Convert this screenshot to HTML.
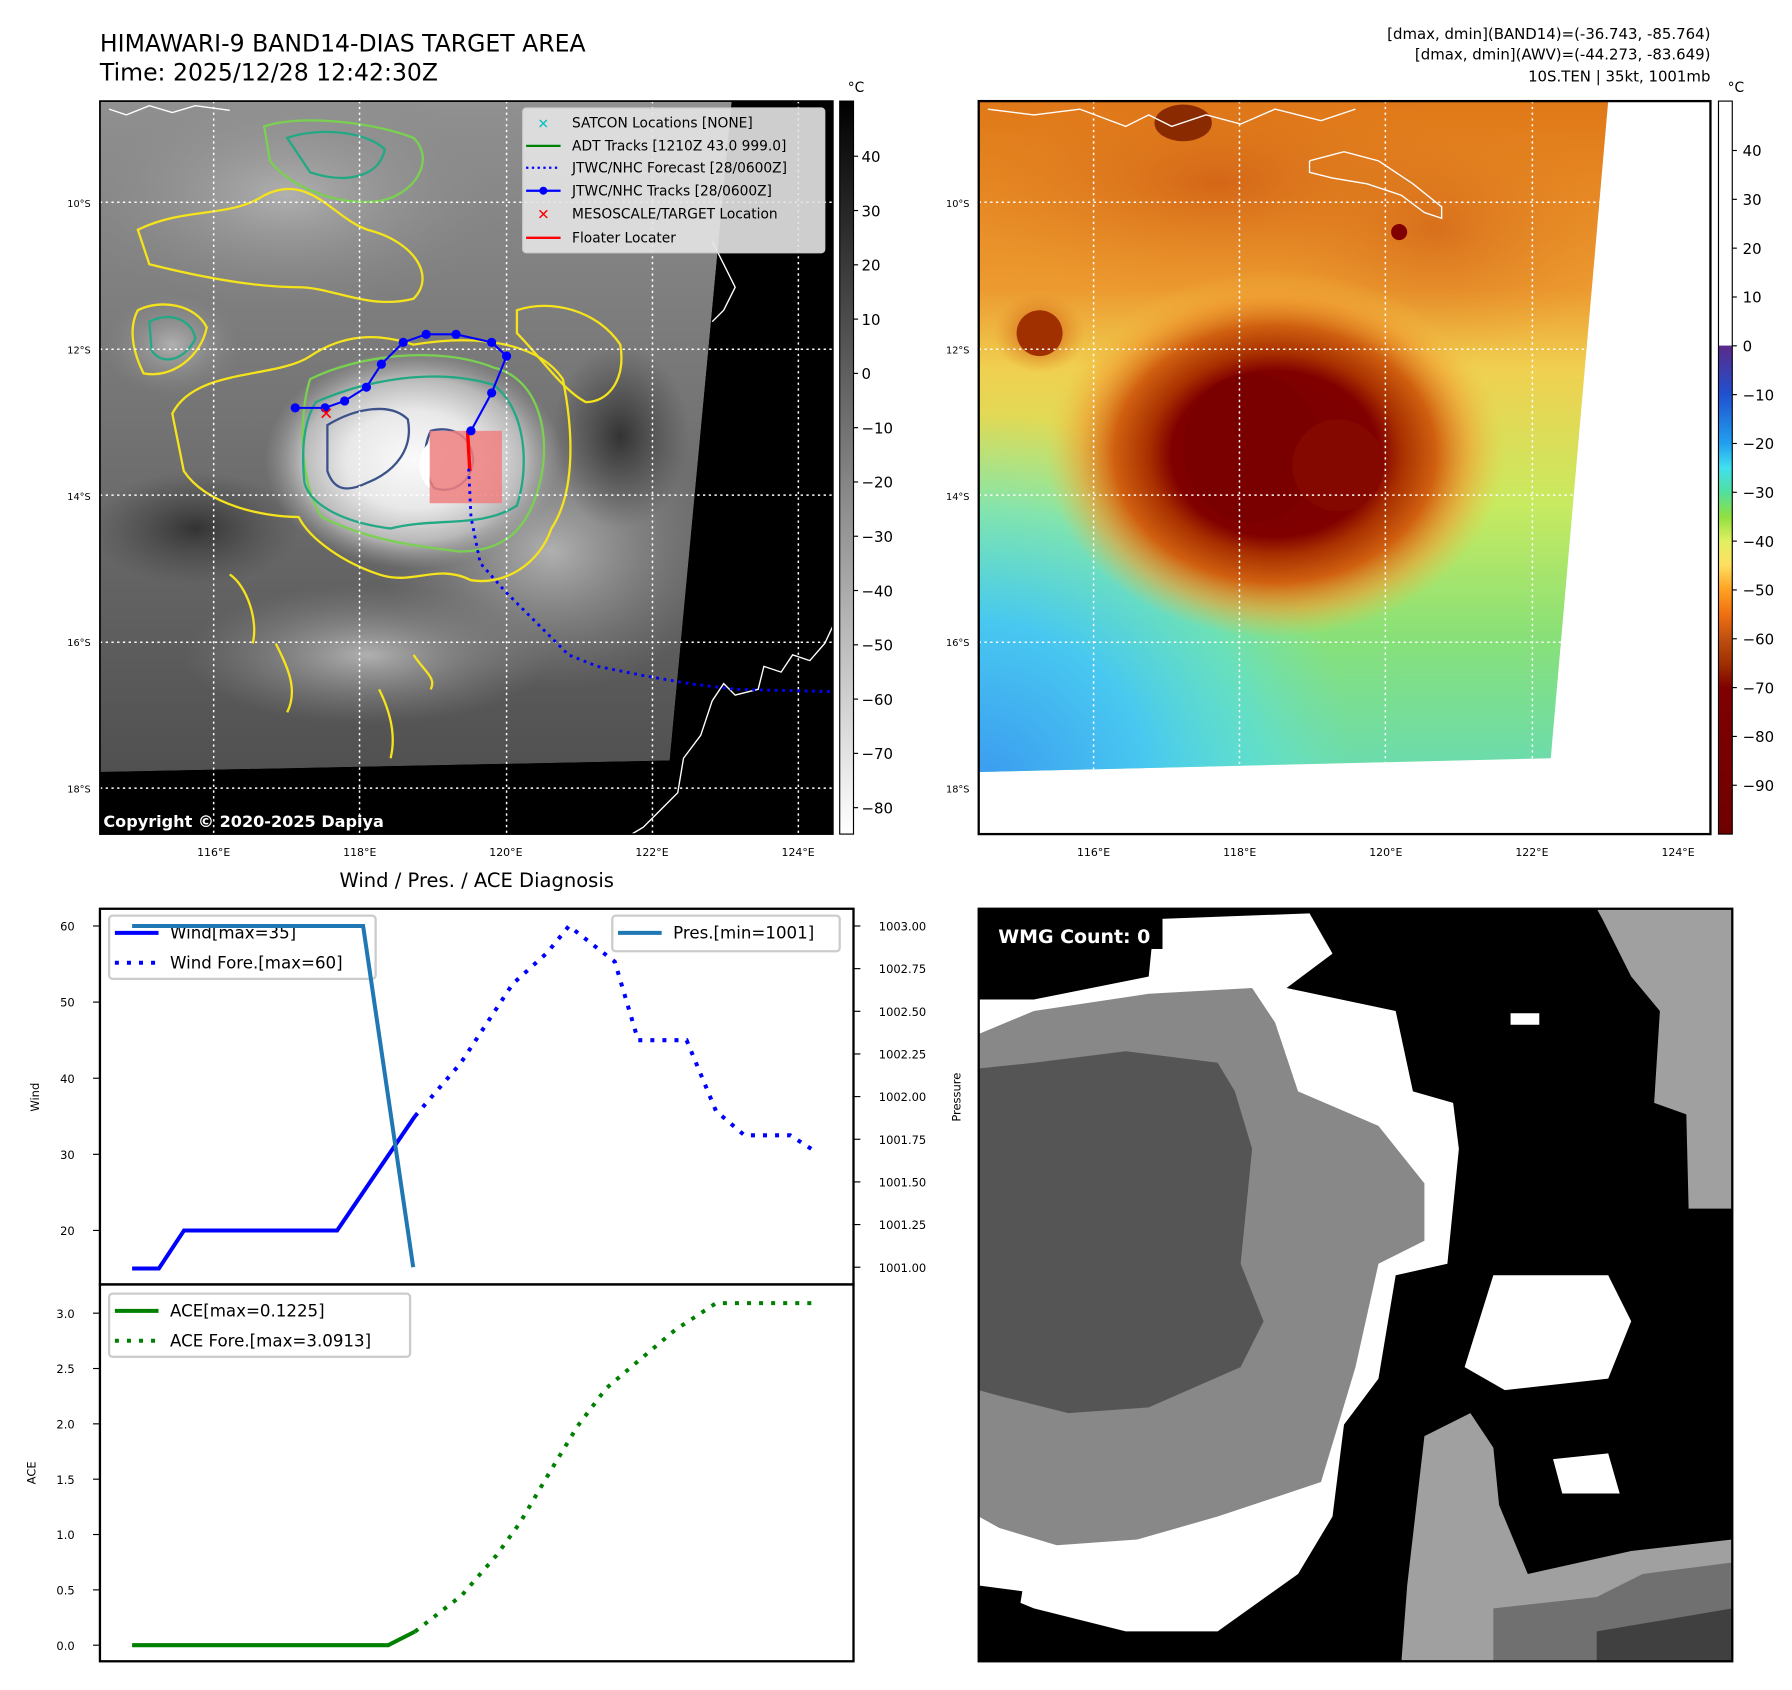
<!DOCTYPE html>
<html><head><meta charset="utf-8"><style>
html,body{margin:0;padding:0;background:#fff;}
svg{display:block;font-family:"DejaVu Sans","Liberation Sans",sans-serif;}
</style></head><body>
<svg id="fig" width="1792" height="1690" viewBox="0 0 1560 1471" preserveAspectRatio="none" xmlns="http://www.w3.org/2000/svg">
<defs>
  <linearGradient id="grayBar" x1="0" y1="0" x2="0" y2="1"><stop offset="0" stop-color="#000"/><stop offset="1" stop-color="#fff"/></linearGradient>
  <linearGradient id="colBar" x1="0" y1="0" x2="0" y2="1">
    <stop offset="0" stop-color="#fff"/><stop offset="0.333" stop-color="#fff"/>
    <stop offset="0.334" stop-color="#5a2a8a"/><stop offset="0.40" stop-color="#2050d0"/>
    <stop offset="0.467" stop-color="#20a0f0"/><stop offset="0.50" stop-color="#40e0f0"/>
    <stop offset="0.533" stop-color="#50e0a0"/><stop offset="0.567" stop-color="#90e040"/>
    <stop offset="0.60" stop-color="#e0f060"/><stop offset="0.633" stop-color="#ffe060"/>
    <stop offset="0.667" stop-color="#ffa020"/><stop offset="0.70" stop-color="#f07010"/>
    <stop offset="0.733" stop-color="#c05010"/><stop offset="0.767" stop-color="#a03000"/>
    <stop offset="0.80" stop-color="#800000"/><stop offset="1" stop-color="#700000"/>
  </linearGradient>
  <radialGradient id="stormGray" cx="0.5" cy="0.5" r="0.5">
    <stop offset="0" stop-color="#fafafa"/><stop offset="0.45" stop-color="#e8e8e8"/><stop offset="0.75" stop-color="#b8b8b8"/><stop offset="1" stop-color="#999" stop-opacity="0"/>
  </radialGradient>
  <radialGradient id="cloudGray" cx="0.5" cy="0.5" r="0.5">
    <stop offset="0" stop-color="#b0b0b0"/><stop offset="1" stop-color="#888" stop-opacity="0"/>
  </radialGradient>
  <radialGradient id="darkGray" cx="0.5" cy="0.5" r="0.5">
    <stop offset="0" stop-color="#333"/><stop offset="1" stop-color="#444" stop-opacity="0"/>
  </radialGradient>
  <linearGradient id="baseGray" x1="0" y1="0" x2="0" y2="1">
    <stop offset="0" stop-color="#909090"/><stop offset="0.5" stop-color="#727272"/><stop offset="1" stop-color="#505050"/>
  </linearGradient>
  <linearGradient id="baseCol" gradientUnits="userSpaceOnUse" x1="0" y1="88" x2="0" y2="672">
    <stop offset="0" stop-color="#e07818"/><stop offset="0.28" stop-color="#ec9a30"/>
    <stop offset="0.4" stop-color="#f0d050"/><stop offset="0.6" stop-color="#c8ea60"/>
    <stop offset="0.8" stop-color="#88e078"/><stop offset="1" stop-color="#6adcb0"/>
  </linearGradient>
  <radialGradient id="blueCorner" gradientUnits="userSpaceOnUse" cx="852" cy="690" r="330">
    <stop offset="0" stop-color="#3a98f0"/><stop offset="0.45" stop-color="#48c8f0"/><stop offset="0.75" stop-color="#58e0e0" stop-opacity="0.6"/><stop offset="1" stop-color="#70e0c0" stop-opacity="0"/>
  </radialGradient>
  <radialGradient id="stormCol" cx="0.5" cy="0.5" r="0.5">
    <stop offset="0" stop-color="#7a0000"/><stop offset="0.45" stop-color="#800000"/><stop offset="0.55" stop-color="#a83000"/><stop offset="0.7" stop-color="#d06010"/><stop offset="0.85" stop-color="#f09a30" stop-opacity="0.6"/><stop offset="1" stop-color="#f0c040" stop-opacity="0"/>
  </radialGradient>
  <radialGradient id="orangeBlob" cx="0.5" cy="0.5" r="0.5">
    <stop offset="0" stop-color="#c85010"/><stop offset="1" stop-color="#e08020" stop-opacity="0"/>
  </radialGradient>
  <clipPath id="clipL"><rect x="87" y="88" width="638" height="638"/></clipPath>
  <clipPath id="clipR"><rect x="852" y="88" width="637" height="638"/></clipPath>
  <clipPath id="clipRdata"><polygon points="852,88 1400,88 1350,660 852,672"/></clipPath>
  <clipPath id="clipW"><rect x="852" y="791" width="656" height="655"/></clipPath>
</defs>

<text x="87" y="45" font-size="20.5">HIMAWARI-9 BAND14-DIAS TARGET AREA</text>
<text x="87" y="70" font-size="20.5">Time: 2025/12/28 12:42:30Z</text>
<g font-size="13" text-anchor="end">
  <text x="1489" y="34">[dmax, dmin](BAND14)=(-36.743, -85.764)</text>
  <text x="1489" y="52">[dmax, dmin](AWV)=(-44.273, -83.649)</text>
  <text x="1489" y="71">10S.TEN | 35kt, 1001mb</text>
</g>

<!-- LEFT MAP -->
<g clip-path="url(#clipL)">
  <rect x="87" y="88" width="638" height="638" fill="#000"/>
  <polygon points="87,88 637,88 583,662 87,672" fill="url(#baseGray)"/>
  <ellipse cx="250" cy="170" rx="190" ry="100" fill="url(#cloudGray)"/>
  <ellipse cx="480" cy="480" rx="150" ry="120" fill="url(#cloudGray)"/>
  <ellipse cx="320" cy="570" rx="160" ry="60" fill="url(#cloudGray)"/>
  <ellipse cx="150" cy="300" rx="60" ry="45" fill="url(#cloudGray)"/>
  <ellipse cx="170" cy="460" rx="90" ry="50" fill="url(#darkGray)"/>
  <ellipse cx="540" cy="380" rx="60" ry="80" fill="url(#darkGray)"/>
  <ellipse cx="360" cy="400" rx="130" ry="95" fill="url(#stormGray)"/>
  <polygon points="637,88 725,88 725,726 87,726 87,672 583,662" fill="#000"/>
  <g fill="none" stroke-width="2">
    <path d="M150,360 C170,320 240,330 270,310 C300,290 330,290 360,300 C420,290 470,300 490,330 C500,380 500,430 480,460 C470,490 440,510 410,505 C380,490 360,510 330,500 C300,490 270,470 260,450 C230,450 180,440 160,410 Z" stroke="#f5e31c"/>
    <path d="M270,330 C310,310 380,300 430,320 C470,330 480,380 470,420 C460,460 440,480 400,480 C360,475 320,470 280,450 C260,420 260,360 270,330 Z" stroke="#7ad151"/>
    <path d="M275,350 C320,330 380,320 430,335 C460,360 460,410 450,440 C420,460 380,450 340,460 C300,455 270,440 265,420 C262,390 265,365 275,350 Z" stroke="#22a884"/>
    <path d="M285,370 C310,355 340,350 355,365 C360,390 345,410 320,420 C300,430 290,425 285,410 Z" stroke="#3b528b"/>
    <path d="M375,375 C395,370 410,380 412,400 C410,420 395,430 378,425 C368,410 368,390 375,375 Z" stroke="#3b528b"/>
    <path d="M120,270 C140,260 170,265 180,285 C175,310 150,330 125,325 C115,305 112,285 120,270 Z" stroke="#f5e31c"/>
    <path d="M130,280 C150,270 168,280 170,295 C160,315 140,318 132,305 Z" stroke="#22a884"/>
    <path d="M120,200 C160,180 200,190 230,170 C270,150 290,190 320,200 C360,210 380,240 360,260 C320,270 290,250 260,250 C220,250 170,240 130,230 Z" stroke="#f5e31c"/>
    <path d="M230,110 C260,100 320,105 360,120 C380,140 360,170 330,175 C290,180 250,160 235,140 Z" stroke="#7ad151"/>
    <path d="M250,120 C280,110 320,115 335,130 C330,155 300,160 270,150 Z" stroke="#22a884"/>
    <path d="M450,270 C480,260 520,270 540,300 C545,330 530,350 510,350 C490,340 470,310 450,290 Z" stroke="#f5e31c"/>
    <path d="M200,500 C215,510 225,540 220,560 M240,560 C250,580 260,600 250,620 M330,600 C340,620 345,640 340,660 M360,570 C370,585 380,590 375,600" stroke="#f5e31c"/>
  </g>
  <g stroke="#fff" stroke-width="1.3" stroke-dasharray="2,3">
    <line x1="87" y1="176" x2="725" y2="176"/><line x1="87" y1="304" x2="725" y2="304"/><line x1="87" y1="431" x2="725" y2="431"/><line x1="87" y1="559" x2="725" y2="559"/><line x1="87" y1="686" x2="725" y2="686"/>
    <line x1="186" y1="88" x2="186" y2="726"/><line x1="313" y1="88" x2="313" y2="726"/><line x1="441" y1="88" x2="441" y2="726"/><line x1="568" y1="88" x2="568" y2="726"/><line x1="695" y1="88" x2="695" y2="726"/>
  </g>
  <polyline fill="none" stroke="#fff" stroke-width="1.2" points="725,545 718,560 705,575 690,570 680,585 665,580 660,600 640,605 630,595 620,610 610,640 595,660 590,690 575,705 560,720 550,726"/>
  <polyline fill="none" stroke="#fff" stroke-width="1.2" points="620,210 630,230 640,250 630,270 620,280"/>
  <polyline fill="none" stroke="#fff" stroke-width="1.2" points="95,95 110,100 130,92 150,98 170,92 200,96"/>
  <rect x="374" y="375" width="63" height="63" fill="#f08080" opacity="0.85"/>
  <path d="M374,385 C362,395 362,415 374,425 Z" fill="#fff"/>
  <line x1="407" y1="375" x2="409" y2="410" stroke="#ff0000" stroke-width="3"/>
  <polyline fill="none" stroke="#0000ff" stroke-width="2.5" stroke-dasharray="2.5,4" points="408,408 410,450 418,490 440,515 470,545 495,570 520,580 560,588 600,595 640,600 725,602"/>
  <polyline fill="none" stroke="#0000ff" stroke-width="1.8" points="257,355 283,355 300,349 319,337 332,317 351,298 371,291 397,291 428,298 441,310 428,342 410,375"/>
  <g fill="#0000ff">
    <circle cx="257" cy="355" r="4"/><circle cx="283" cy="355" r="4"/><circle cx="300" cy="349" r="4"/><circle cx="319" cy="337" r="4"/><circle cx="332" cy="317" r="4"/><circle cx="351" cy="298" r="4"/><circle cx="371" cy="291" r="4"/><circle cx="397" cy="291" r="4"/><circle cx="428" cy="298" r="4"/><circle cx="441" cy="310" r="4"/><circle cx="428" cy="342" r="4"/><circle cx="410" cy="375" r="4"/>
  </g>
  <text x="284" y="365" font-size="15" fill="#ff0000" font-weight="bold" text-anchor="middle">✕</text>
  <text x="90" y="720" font-size="14" font-weight="bold" fill="#fff">Copyright © 2020-2025 Dapiya</text>
</g>
<rect x="87" y="88" width="638" height="638" fill="none" stroke="#000" stroke-width="1.5"/>

<g font-size="12">
  <rect x="455" y="94" width="263" height="126" rx="3" fill="#e4e4e4" fill-opacity="0.9" stroke="#ccc"/>
  <text x="473" y="112" fill="#00c0c0" font-weight="bold" font-size="12" text-anchor="middle">✕</text>
  <text x="498" y="111">SATCON Locations [NONE]</text>
  <line x1="458" y1="127" x2="488" y2="127" stroke="#008000" stroke-width="2"/>
  <text x="498" y="131">ADT Tracks [1210Z 43.0 999.0]</text>
  <line x1="458" y1="146" x2="488" y2="146" stroke="#0000ff" stroke-width="2" stroke-dasharray="2,3"/>
  <text x="498" y="150">JTWC/NHC Forecast [28/0600Z]</text>
  <line x1="458" y1="166" x2="488" y2="166" stroke="#0000ff" stroke-width="2"/><circle cx="473" cy="166" r="3.5" fill="#0000ff"/>
  <text x="498" y="170">JTWC/NHC Tracks [28/0600Z]</text>
  <text x="473" y="191" fill="#ff0000" font-weight="bold" font-size="13" text-anchor="middle">✕</text>
  <text x="498" y="190">MESOSCALE/TARGET Location</text>
  <line x1="458" y1="207" x2="488" y2="207" stroke="#ff0000" stroke-width="2"/>
  <text x="498" y="211">Floater Locater</text>
</g>

<g>
  <rect x="731" y="88" width="12" height="638" fill="url(#grayBar)" stroke="#000"/>
  <text x="738" y="80" font-size="12">°C</text>
  <g id="cbL" font-size="13"></g>
</g>

<!-- RIGHT MAP -->
<g clip-path="url(#clipR)">
  <rect x="852" y="88" width="637" height="638" fill="#fff"/>
  <g clip-path="url(#clipRdata)">
    <rect x="852" y="88" width="560" height="600" fill="url(#baseCol)"/>
    <rect x="852" y="88" width="560" height="600" fill="url(#blueCorner)"/>
    <ellipse cx="1060" cy="160" rx="240" ry="100" fill="url(#orangeBlob)" opacity="0.6"/>
    <ellipse cx="1250" cy="200" rx="160" ry="110" fill="url(#orangeBlob)" opacity="0.5"/>
    <ellipse cx="905" cy="290" rx="40" ry="35" fill="url(#orangeBlob)"/>
    <ellipse cx="1110" cy="395" rx="200" ry="160" fill="url(#stormCol)"/>
    <ellipse cx="1090" cy="390" rx="60" ry="65" fill="#7a0000"/>
    <ellipse cx="1165" cy="405" rx="40" ry="40" fill="#850800"/>
    <ellipse cx="905" cy="290" rx="20" ry="20" fill="#a03000"/>
    <ellipse cx="1030" cy="107" rx="25" ry="16" fill="#8a2a00"/>
    <ellipse cx="1218" cy="202" rx="7" ry="7" fill="#800000"/>
  </g>
  <polyline fill="none" stroke="#fff" stroke-width="1.2" points="1140,140 1170,132 1200,140 1230,160 1255,180 1255,190 1240,185 1220,170 1190,160 1160,155 1140,150 1140,140"/>
  <polyline fill="none" stroke="#fff" stroke-width="1.2" points="860,95 900,100 940,95 980,110 1000,100 1020,110 1050,100 1080,108 1110,95 1150,105 1180,95"/>
  <g stroke="#fff" stroke-width="1.3" stroke-dasharray="2,3">
    <line x1="852" y1="176" x2="1489" y2="176"/><line x1="852" y1="304" x2="1489" y2="304"/><line x1="852" y1="431" x2="1489" y2="431"/><line x1="852" y1="559" x2="1489" y2="559"/><line x1="852" y1="686" x2="1489" y2="686"/>
    <line x1="952" y1="88" x2="952" y2="726"/><line x1="1079" y1="88" x2="1079" y2="726"/><line x1="1206" y1="88" x2="1206" y2="726"/><line x1="1334" y1="88" x2="1334" y2="726"/><line x1="1461" y1="88" x2="1461" y2="726"/>
  </g>
</g>
<rect x="852" y="88" width="637" height="638" fill="none" stroke="#000" stroke-width="2"/>

<g>
  <rect x="1496" y="88" width="12" height="638" fill="url(#colBar)" stroke="#000"/>
  <text x="1504" y="80" font-size="12">°C</text>
  <g id="cbR" font-size="13"></g>
</g>

<g id="mapTicks" font-size="10"></g>

<text x="415" y="772" font-size="17" text-anchor="middle">Wind / Pres. / ACE Diagnosis</text>
<g id="chart"></g>

<!-- WMG -->
<g clip-path="url(#clipW)">
  <rect x="852" y="791" width="656" height="655" fill="#000"/>
  <polygon points="1390,791 1508,791 1508,1052 1470,1052 1468,970 1440,960 1445,880 1420,850 1395,800" fill="#a0a0a0"/>
  <polygon points="1005,800 1140,795 1160,830 1120,860 1215,880 1230,950 1265,960 1270,1000 1260,1100 1215,1110 1200,1200 1170,1240 1160,1320 1130,1370 1060,1420 980,1420 900,1400 852,1380 852,870 900,870 1000,850" fill="#fff"/>
  <polygon points="1300,1110 1400,1110 1420,1150 1400,1200 1310,1210 1275,1190" fill="#fff"/>
  <polygon points="1352,1270 1400,1265 1410,1300 1360,1300" fill="#fff"/>
  <polygon points="1315,882 1340,882 1340,892 1315,892" fill="#fff"/>
  <polygon points="852,900 900,880 1000,865 1090,860 1110,890 1130,950 1200,980 1240,1030 1240,1080 1200,1100 1180,1190 1150,1290 1060,1320 990,1340 920,1345 870,1330 852,1320" fill="#888"/>
  <polygon points="852,930 900,925 980,915 1060,925 1075,950 1090,1000 1080,1100 1100,1150 1080,1190 1000,1225 930,1230 870,1215 852,1210" fill="#555"/>
  <polygon points="1240,1250 1280,1230 1300,1260 1305,1310 1330,1370 1420,1350 1508,1340 1508,1446 1220,1446 1225,1380" fill="#a0a0a0"/>
  <polygon points="1300,1400 1390,1390 1430,1370 1508,1360 1508,1446 1300,1446" fill="#707070"/>
  <polygon points="1390,1420 1508,1400 1508,1446 1390,1446" fill="#404040"/>
  <polygon points="852,1380 890,1385 880,1446 852,1446" fill="#000"/>
  <rect x="852" y="791" width="160" height="35" fill="#000"/>
  <text x="869" y="821" font-size="16.5" font-weight="bold" fill="#fff">WMG Count: 0</text>
</g>
<rect x="852" y="791" width="656" height="655" fill="none" stroke="#000" stroke-width="2"/>

<script>
// chart data
const windT = [0, 3.1, 6, 23.7, 32.7];
const windV = [15, 15, 20, 20, 35];
const windForeT = [32.7, 38, 44, 48, 50.5, 55.8, 58.5, 64.1, 67.5, 70.8, 76.1, 78.8];
const windForeV = [35, 42, 52.4, 56.5, 60, 55.3, 45, 45, 35.7, 32.5, 32.5, 30.5];
const presT = [0, 26.7, 32.5];
const presV = [1003, 1003, 1001];
const aceT = [0, 29.6, 32.7];
const aceV = [0, 0, 0.1225];
const aceForeT = [32.7, 38.1, 42.1, 44.8, 48.1, 51.5, 54.8, 58.1, 62.8, 67.5, 78.8];
const aceForeV = [0.1225, 0.45, 0.81, 1.1, 1.54, 1.98, 2.32, 2.54, 2.85, 3.09, 3.09];
const windTicks = [20, 30, 40, 50, 60];
const presTicks = [1001.00, 1001.25, 1001.50, 1001.75, 1002.00, 1002.25, 1002.50, 1002.75, 1003.00];
const aceTicks = [0.0, 0.5, 1.0, 1.5, 2.0, 2.5, 3.0];
const irCbTicks = [40, 30, 20, 10, 0, -10, -20, -30, -40, -50, -60, -70, -80];
const awvCbTicks = [40, 30, 20, 10, 0, -10, -20, -30, -40, -50, -60, -70, -80, -90];
const latTicks = [10, 12, 14, 16, 18];
const lonTicks = [116, 118, 120, 122, 124];

const NS = 'http://www.w3.org/2000/svg';
function mk(tag, attrs, parent) { const e = document.createElementNS(NS, tag); for (const k in attrs) e.setAttribute(k, attrs[k]); parent.appendChild(e); return e; }
const xT = t => 115 + t * 7.53;
const yW = v => 806 - (v - 60) * 6.625;
const yP = p => 1103 - (p - 1001) * 148.5;
const yA = v => 1432 - v * 96.33;
const minus = v => String(v).replace('-', '\u2212');

const chart = document.getElementById('chart');
const wBox = mk('rect', {x: 87, y: 791, width: 656, height: 327, fill: 'none', stroke: '#000', 'stroke-width': 2}, chart);


const aBox = mk('rect', {x: 87, y: 1118, width: 656, height: 328, fill: 'none', stroke: '#000', 'stroke-width': 2}, chart);



windTicks.forEach(v => {
  const y = yW(v);
  mk('line', {x1: 81, x2: 87, y1: y, y2: y, stroke: '#000'}, chart);
  const t = mk('text', {x: 65, y: y + 4, 'font-size': 10, 'text-anchor': 'end'}, chart);
  
  
  t.textContent = v;
});
presTicks.forEach(v => {
  const y = yP(v);
  mk('line', {x1: 743, x2: 749, y1: y, y2: y, stroke: '#000'}, chart);
  const t = mk('text', {x: 765, y: y + 4, 'font-size': 10}, chart);
  
  
  t.textContent = v.toFixed(2);
});
aceTicks.forEach(v => {
  const y = yA(v);
  mk('line', {x1: 81, x2: 87, y1: y, y2: y, stroke: '#000'}, chart);
  const t = mk('text', {x: 65, y: y + 4, 'font-size': 10, 'text-anchor': 'end'}, chart);
  
  
  t.textContent = v.toFixed(1);
});
function ylabel(txt, x, y, name) {
  const t = mk('text', {x: x, y: y, 'font-size': 10, 'text-anchor': 'middle', transform: `rotate(-90 ${x} ${y})`}, chart);
  
  
  t.textContent = txt;
}
ylabel('Wind', 34, 955, 'wind-axis-title');
ylabel('Pressure', 836, 955, 'pressure-axis-title');
ylabel('ACE', 31, 1282, 'ace-axis-title');

function line(ts, vs, yf, color, dash, name) {
  const pts = ts.map((t, i) => xT(t).toFixed(1) + ',' + yf(vs[i]).toFixed(1)).join(' ');
  const a = {points: pts, fill: 'none', stroke: color, 'stroke-width': 3.5};
  if (dash) a['stroke-dasharray'] = '3.5,7';
  const p = mk('polyline', a, chart);
  
  
}
function legendBox(x, y, w, h) { mk('rect', {x: x, y: y, width: w, height: h, rx: 3, fill: '#fff', 'fill-opacity': 0.8, stroke: '#ccc', 'stroke-width': 2}, chart); }
legendBox(95, 797, 232, 55);
legendBox(533, 797, 198, 31);
legendBox(95, 1126, 262, 55);

line(windT, windV, yW, '#0000ff', false, 'wind-line');
line(windForeT, windForeV, yW, '#0000ff', true, 'wind-forecast-line');
line(aceT, aceV, yA, '#008000', false, 'ace-line');
line(aceForeT, aceForeV, yA, '#008000', true, 'ace-forecast-line');

function legItem(x, y, color, dash, label, name) {
  const a = {x1: x, x2: x + 38, y1: y, y2: y, stroke: color, 'stroke-width': 3.5};
  if (dash) a['stroke-dasharray'] = '3.5,7';
  mk('line', a, chart);
  const t = mk('text', {x: x + 48, y: y + 5, 'font-size': 14.5}, chart);
  
  
  t.textContent = label;
}
legItem(100, 812, '#0000ff', false, 'Wind[max=35]', 'legend-wind');
legItem(100, 838, '#0000ff', true, 'Wind Fore.[max=60]', 'legend-wind-forecast');
legItem(538, 812, '#1f77b4', false, 'Pres.[min=1001]', 'legend-pressure');
legItem(100, 1141, '#008000', false, 'ACE[max=0.1225]', 'legend-ace');
legItem(100, 1167, '#008000', true, 'ACE Fore.[max=3.0913]', 'legend-ace-forecast');
line(presT, presV, yP, '#1f77b4', false, 'pressure-line');

const cbL = document.getElementById('cbL');
irCbTicks.forEach(v => {
  const y = 325 - v * 4.725;
  mk('line', {x1: 743, x2: 747, y1: y, y2: y, stroke: '#000'}, cbL);
  const t = mk('text', {x: 750, y: y + 5}, cbL);
  
  
  t.textContent = minus(v);
});
const cbR = document.getElementById('cbR');
awvCbTicks.forEach(v => {
  const y = 301 - v * 4.25;
  mk('line', {x1: 1508, x2: 1512, y1: y, y2: y, stroke: '#000'}, cbR);
  const t = mk('text', {x: 1517, y: y + 5}, cbR);
  
  
  t.textContent = minus(v);
});
const mt = document.getElementById('mapTicks');
[[87, 186], [852, 952]].forEach(([x0, lon0]) => {
  latTicks.forEach(l => {
    const y = 176 + (l - 10) * 63.75;
    const t = mk('text', {x: x0 - 8, y: y + 4, 'font-size': 8.5, 'text-anchor': 'end'}, mt);
    
    
    t.textContent = l + '°S';
  });
  lonTicks.forEach(l => {
    const x = lon0 + (l - 116) * 63.6;
    const t = mk('text', {x: x, y: 745, 'font-size': 9.5, 'text-anchor': 'middle'}, mt);
    
    
    t.textContent = l + '°E';
  });
});
</script>
</svg>
</body></html>
